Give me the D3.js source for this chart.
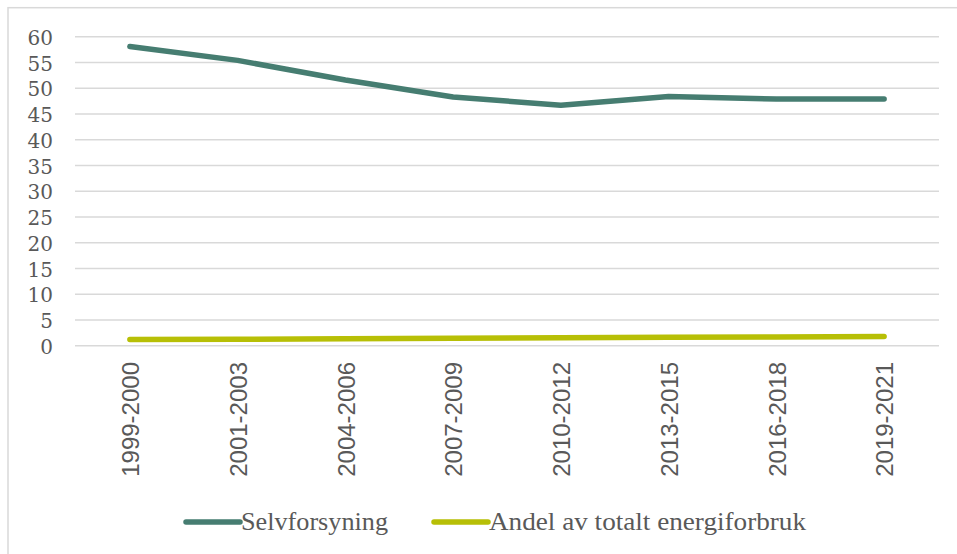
<!DOCTYPE html>
<html><head><meta charset="utf-8">
<script src="https://cdn.jsdelivr.net/npm/d3@7"></script>
<style>body{margin:0;background:#fff}svg{display:block}</style>
</head><body>
<svg id="c" width="957" height="554"></svg>
<script>
const categories = ["1999-2000","2001-2003","2004-2006","2007-2009","2010-2012","2013-2015","2016-2018","2019-2021"];
const selvforsyning = [58.1, 55.4, 51.6, 48.3, 46.7, 48.4, 47.9, 47.9];
const andel = [1.2, 1.25, 1.35, 1.45, 1.55, 1.65, 1.7, 1.8];
const yTicks = [0,5,10,15,20,25,30,35,40,45,50,55,60];
const seriesNames = ["Selvforsyning","Andel av totalt energiforbruk"];
const colors = ["#467d71","#b7bf06"];

const svg = d3.select("#c");
svg.append("rect").attr("x",8).attr("y",7.7).attr("width",1000).attr("height",1000)
  .attr("fill","none").attr("stroke","#d9d9d9").attr("stroke-width",1.5);

const x = d3.scalePoint().domain(categories).range([76,938]).padding(0.5);
const y = d3.scaleLinear().domain([0,60]).range([345.7,36.7]);

const grid = svg.append("g");
grid.selectAll("line").data(yTicks).join("line")
  .attr("x1",75).attr("x2",939).attr("y1",d=>y(d)).attr("y2",d=>y(d))
  .attr("stroke","#d9d9d9").attr("stroke-width",1.6);

const yAxis = d3.axisLeft(y).tickValues(yTicks).tickSize(0).tickPadding(0);
const ya = svg.append("g").attr("transform","translate(53,0)").call(yAxis);
ya.select(".domain").remove();
ya.selectAll("text").attr("font-family","'DejaVu Serif', 'Liberation Serif', serif")
  .attr("font-size",20).attr("fill","#595959").attr("dy","0.38em");

const xAxis = d3.axisBottom(x).tickSize(0).tickPadding(0);
const xa = svg.append("g").attr("transform","translate(0,360)").call(xAxis);
xa.select(".domain").remove();
xa.selectAll("text").attr("font-family","'Liberation Sans', Arial, sans-serif")
  .attr("font-size",24).attr("fill","#595959")
  .attr("transform","rotate(-90)").attr("text-anchor","end")
  .attr("x",-2).attr("y",0).attr("dy","0.36em");

const line = d3.line().x((d,i)=>x(categories[i])).y(d=>y(d));
[selvforsyning, andel].forEach((s,k)=>{
  svg.append("path").attr("d",line(s)).attr("fill","none")
    .attr("stroke",colors[k]).attr("stroke-width",5.5)
    .attr("stroke-linecap","round").attr("stroke-linejoin","round");
});

// legend
const leg = [{x1:186,x2:240,tx:241,len:147},{x1:434,x2:488,tx:489,len:317}];
leg.forEach((L,k)=>{
  svg.append("line").attr("x1",L.x1).attr("x2",L.x2).attr("y1",522).attr("y2",522)
    .attr("stroke",colors[k]).attr("stroke-width",5.5).attr("stroke-linecap","round");
  svg.append("text").attr("x",L.tx).attr("y",530).text(seriesNames[k])
    .attr("font-family","'Liberation Serif', serif").attr("font-size",26)
    .attr("fill","#595959").attr("textLength",L.len).attr("lengthAdjust","spacingAndGlyphs");
});
</script>
</body></html>
